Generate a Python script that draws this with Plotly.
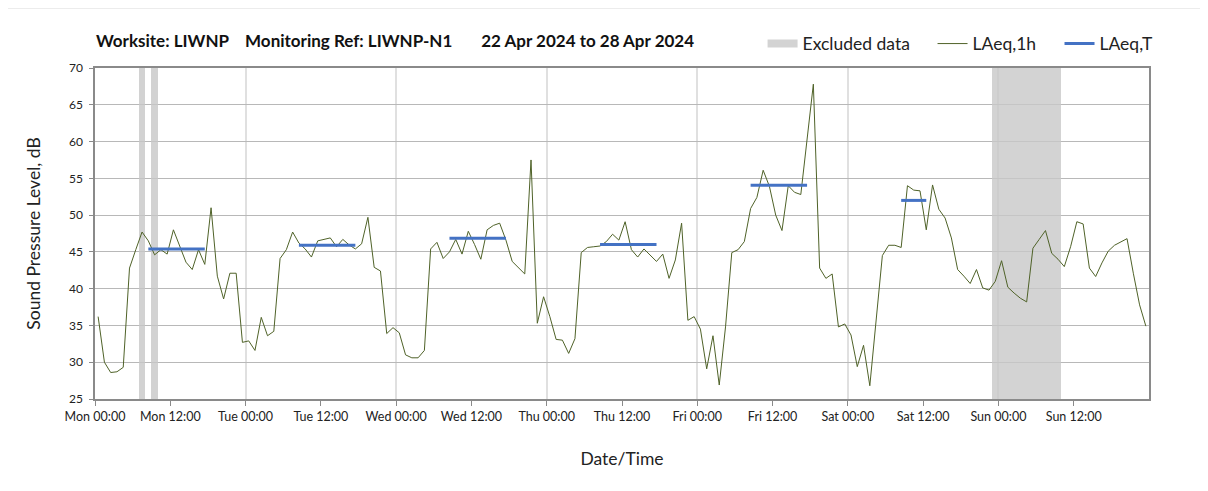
import pandas as pd
import plotly.graph_objects as go

# ---------------- data ----------------
first_hour = "2024-04-22 00:30"
laeq_1h = [
    36.2, 30.0, 28.6, 28.7, 29.3, 42.8, 45.3, 47.7, 46.5, 44.6, 45.3, 44.7,
    48.0, 45.7, 43.6, 42.6, 45.3, 43.3, 51.0, 41.7, 38.6, 42.1, 42.1, 32.7,
    32.9, 31.6, 36.1, 33.6, 34.2, 44.1, 45.3, 47.7, 46.2, 45.4, 44.3, 46.5,
    46.7, 46.9, 45.7, 46.7, 45.95, 45.4, 46.1, 49.7, 42.9, 42.4, 33.9, 34.7,
    34.0, 31.0, 30.6, 30.6, 31.6, 45.4, 46.3, 44.1, 45.0, 46.7, 44.7, 47.8,
    46.0, 44.0, 48.0, 48.6, 48.9, 46.6, 43.7, 42.8, 42.0, 57.5, 35.3, 38.9,
    36.2, 33.1, 33.0, 31.2, 33.2, 44.9, 45.6, 45.7, 45.8, 46.4, 47.4, 46.6,
    49.1, 45.3, 44.3, 45.4, 44.5, 43.7, 44.7, 41.4, 43.9, 48.9, 35.7, 36.2,
    34.5, 29.1, 33.6, 26.9, 34.8, 44.9, 45.3, 46.4, 50.9, 52.4, 56.1, 53.9,
    50.0, 47.9, 54.0, 53.1, 52.8, 60.2, 67.8, 42.8, 41.4, 42.0, 34.8, 35.2,
    33.7, 29.4, 32.3, 26.8, 35.7, 44.5, 45.9, 45.9, 45.6, 54.0, 53.4, 53.3,
    48.0, 54.1, 50.8, 49.6, 46.9, 42.6, 41.7, 40.7, 42.6, 40.1, 39.8, 41.0,
    43.8, 40.2, 39.4, 38.7, 38.2, 45.5, 46.7, 47.9, 44.8, 44.0, 43.0, 45.7,
    49.1, 48.8, 42.8, 41.65, 43.5, 45.1, 45.9, 46.3, 46.8, 42.1, 37.8, 34.9,
]

excluded_start = ["2024-04-22 07:00", "2024-04-22 09:00", "2024-04-27 23:00"]
excluded_hours = [1, 1, 11]

laeq_t_start = ["2024-04-22 08:30", "2024-04-23 08:30", "2024-04-24 08:30",
                "2024-04-25 08:30", "2024-04-26 08:30", "2024-04-27 08:30"]
laeq_t_end = ["2024-04-22 17:30", "2024-04-23 17:30", "2024-04-24 17:30",
              "2024-04-25 17:30", "2024-04-26 17:30", "2024-04-27 12:30"]
laeq_t_value = [45.4, 45.9, 46.85, 46.0, 54.05, 52.0]

x_tick_labels = ["Mon 00:00", "Mon 12:00", "Tue 00:00", "Tue 12:00",
                 "Wed 00:00", "Wed 12:00", "Thu 00:00", "Thu 12:00",
                 "Fri 00:00", "Fri 12:00", "Sat 00:00", "Sat 12:00",
                 "Sun 00:00", "Sun 12:00"]
y_min, y_max = 25, 70

title_text = ("Worksite: LIWNP\u00a0\u00a0\u00a0\u00a0Monitoring Ref: LIWNP-N1"
              "\u00a0\u00a0\u00a0\u00a0\u00a0\u00a0\u00a022 Apr 2024 to 28 Apr 2024")

# ---------------- derived ----------------
times = pd.date_range(first_hour, periods=len(laeq_1h), freq="h")
tick_times = pd.date_range("2024-04-22 00:00", periods=len(x_tick_labels), freq="12h")
day_lines = pd.date_range("2024-04-22 00:00", periods=8, freq="24h")

ex_start = pd.to_datetime(excluded_start)
ex_center = [s + pd.Timedelta(hours=h / 2) for s, h in zip(ex_start, excluded_hours)]
ex_width = [h * 3600 * 1000 for h in excluded_hours]

tx, ty = [], []
for s, e, v in zip(laeq_t_start, laeq_t_end, laeq_t_value):
    tx += [pd.Timestamp(s), pd.Timestamp(e), None]
    ty += [v, v, None]

FONT = "Lato, 'Open Sans', sans-serif"
TXT = "#222222"

# page body has an 8px margin; work in page pixels and convert
OFF = 8
W, H = 1208 - OFF, 491 - OFF
L, R, T, B = 95.3 - OFF, 1149.5 - OFF, 68.3 - OFF, 399.3 - OFF
pw, ph = R - L, B - T


def px_x(p):
    return (p - OFF - L) / pw


def px_y(p):
    return 1 - (p - OFF - T) / ph


fig = go.Figure()
fig.add_trace(go.Bar(
    x=ex_center, y=[y_max - y_min] * len(ex_center), base=y_min, width=ex_width,
    marker=dict(color="rgb(200,200,200)", line=dict(width=0)), opacity=0.8,
    showlegend=False, hoverinfo="skip"))
fig.add_trace(go.Scatter(
    x=[None], y=[None], mode="lines", name="Excluded data", legend="legend",
    line=dict(color="#D3D3D3", width=8)))
fig.add_trace(go.Scatter(
    x=times, y=laeq_1h, mode="lines", name="LAeq,1h", legend="legend2",
    line=dict(color="#4F6228", width=1)))
fig.add_trace(go.Scatter(
    x=tx, y=ty, mode="lines", name="LAeq,T", connectgaps=False, legend="legend3",
    line=dict(color="#4472C4", width=3)))

leg_common = dict(orientation="h", xanchor="left", yanchor="middle", y=px_y(44),
                  font=dict(size=17.5, color=TXT), bgcolor="rgba(0,0,0,0)")

fig.update_layout(
    width=W, height=H,
    margin=dict(l=L, r=W - R, t=T, b=H - B, autoexpand=False),
    paper_bgcolor="white", plot_bgcolor="white",
    font=dict(family=FONT, color=TXT),
    showlegend=True,
    legend=dict(x=px_x(803 - 40), **leg_common),
    legend2=dict(x=px_x(973 - 40), **leg_common),
    legend3=dict(x=px_x(1100 - 40), **leg_common),
    bargap=0,
    xaxis=dict(
        type="date",
        range=[day_lines[0], day_lines[-1]],
        tickmode="array", tickvals=tick_times, ticktext=x_tick_labels,
        ticks="outside", ticklen=5, tickcolor="#8a8a8a",
        tickfont=dict(size=12.5, color=TXT),
        showgrid=False,
        minor=dict(tickvals=day_lines, showgrid=True, gridcolor="#e0e0e0",
                   gridwidth=2, ticks="", ticklen=0),
        showline=True, linecolor="#8a8a8a", linewidth=1.5, mirror=True,
        title=dict(text="Date/Time", font=dict(size=17.5, color=TXT), standoff=30),
        zeroline=False,
    ),
    yaxis=dict(
        range=[y_min, y_max], dtick=5, tick0=25,
        ticks="outside", ticklen=4, tickcolor="#8a8a8a",
        tickfont=dict(size=12, color=TXT), ticklabelstandoff=4,
        showgrid=True, gridcolor="#b8b8b8", gridwidth=1,
        showline=True, linecolor="#8a8a8a", linewidth=1.5, mirror=True,
        title=dict(text="Sound Pressure Level, dB", font=dict(size=17.5, color=TXT),
                   standoff=24),
        zeroline=False,
    ),
    annotations=[dict(
        text="<b>" + title_text + "</b>", xref="paper", yref="paper",
        x=px_x(94), xanchor="left", y=px_y(41), yanchor="middle",
        showarrow=False, font=dict(size=17, color="#111111", family=FONT))],
    shapes=[dict(type="rect", xref="paper", yref="paper",
                 x0=px_x(5), x1=px_x(1230), y0=px_y(510), y1=px_y(8),
                 line=dict(color="#d9d9d9", width=1.5), fillcolor="rgba(0,0,0,0)",
                 layer="below")],
)

fig.write_html("out.html")
